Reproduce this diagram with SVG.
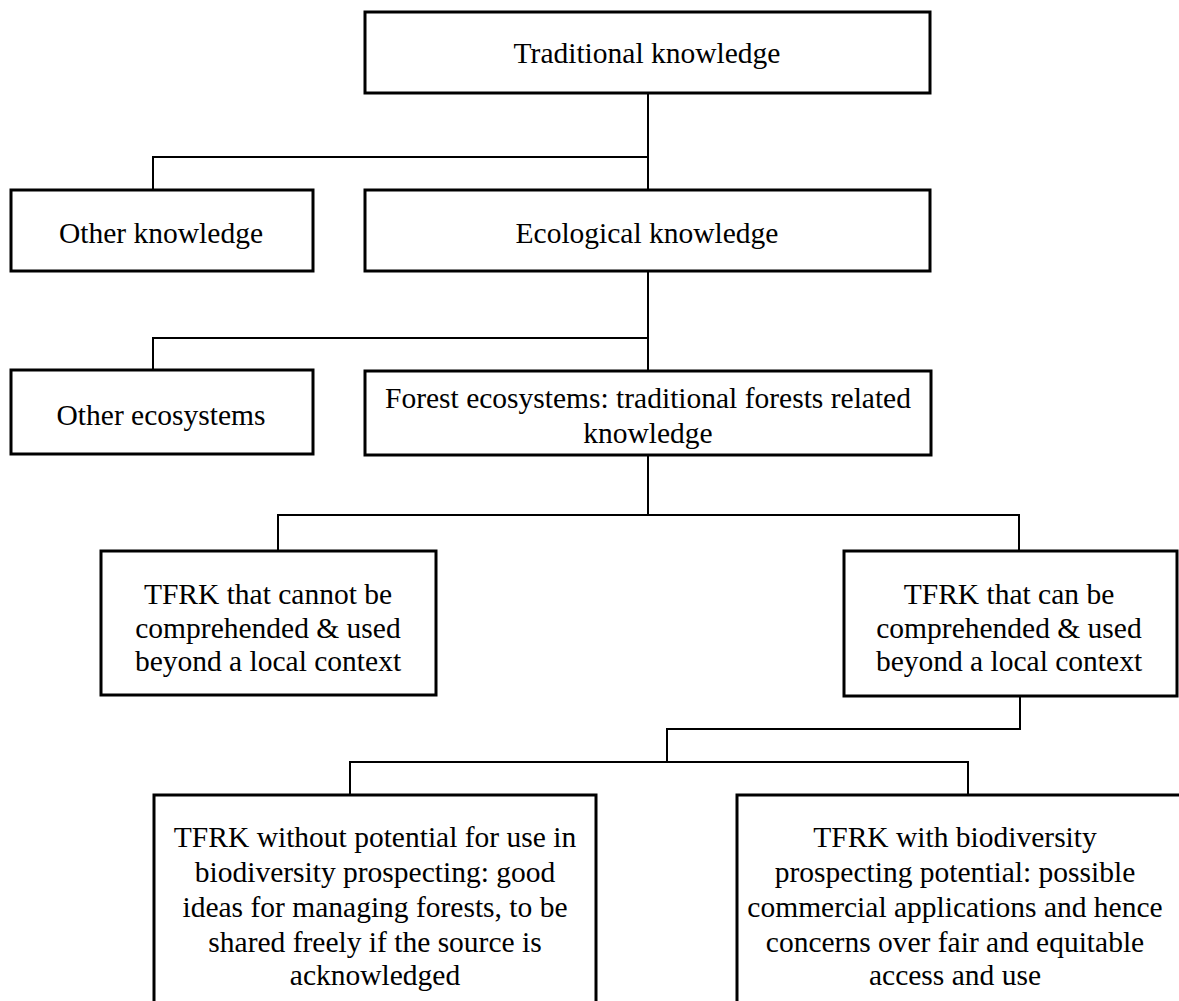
<svg xmlns="http://www.w3.org/2000/svg" width="1179" height="1001" viewBox="0 0 1179 1001">
<style>
.box{fill:#fff;stroke:#000;stroke-width:3}
.ln{fill:none;stroke:#000;stroke-width:2}
text{font-family:"Liberation Serif","Times New Roman",serif;font-size:29.5px;fill:#000;text-anchor:middle}
</style>
<rect width="1179" height="1001" fill="#fff"/>
<g id="connectors">
<polyline class="ln" points="648,93 648,190"/>
<polyline class="ln" points="648,157 153,157 153,190"/>
<polyline class="ln" points="648,271 648,338 153,338 153,370"/>
<polyline class="ln" points="648,338 648,371"/>
<polyline class="ln" points="648,455 648,515"/>
<polyline class="ln" points="278,551 278,515 1019,515 1019,551"/>
<polyline class="ln" points="1020,696 1020,729 667,729 667,762"/>
<polyline class="ln" points="350,795 350,762 968,762 968,795"/>
</g>
<g id="n-traditional"><rect class="box" x="365" y="12" width="565" height="81"/><text x="647" y="63">Traditional knowledge</text></g>
<g id="n-other-knowledge"><rect class="box" x="11" y="190" width="302" height="81"/><text x="161" y="243">Other knowledge</text></g>
<g id="n-ecological"><rect class="box" x="365" y="190" width="565" height="81"/><text x="647" y="243">Ecological knowledge</text></g>
<g id="n-other-ecosystems"><rect class="box" x="11" y="370" width="302" height="84"/><text x="161" y="425">Other ecosystems</text></g>
<g id="n-forest"><rect class="box" x="365" y="371" width="566" height="84"/><text x="648" y="408">Forest ecosystems: traditional forests related</text><text x="648" y="443">knowledge</text></g>
<g id="n-tfrk-local"><rect class="box" x="101" y="551" width="335" height="144"/><text x="268" y="604">TFRK that cannot be</text><text x="268" y="638">comprehended &amp; used</text><text x="268" y="671">beyond a local context</text></g>
<g id="n-tfrk-beyond"><rect class="box" x="844" y="551" width="333" height="145"/><text x="1009" y="604">TFRK that can be</text><text x="1009" y="638">comprehended &amp; used</text><text x="1009" y="671">beyond a local context</text></g>
<g id="n-without"><rect class="box" x="154" y="795" width="442" height="220"/><text x="375" y="847">TFRK without potential for use in</text><text x="375" y="882">biodiversity prospecting: good</text><text x="375" y="917">ideas for managing forests, to be</text><text x="375" y="952">shared freely if the source is</text><text x="375" y="985">acknowledged</text></g>
<g id="n-with"><rect class="box" x="737" y="795" width="460" height="220"/><text x="955" y="847">TFRK with biodiversity</text><text x="955" y="882">prospecting potential: possible</text><text x="955" y="917">commercial applications and hence</text><text x="955" y="952">concerns over fair and equitable</text><text x="955" y="985">access and use</text></g>
</svg>
